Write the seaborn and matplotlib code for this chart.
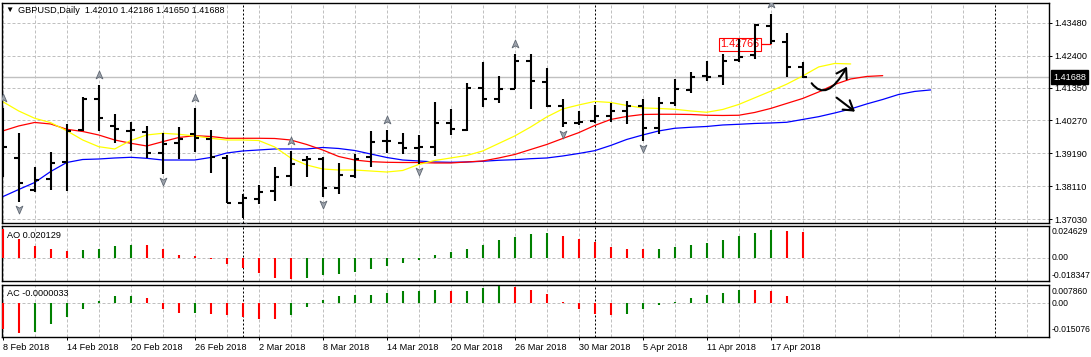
import numpy as np
import pandas as pd
import seaborn as sns
import matplotlib.pyplot as plt
from matplotlib.path import Path
from matplotlib.patches import FancyArrowPatch
from matplotlib.transforms import ScaledTranslation, blended_transform_factory

# GBPUSD daily bars, 8 Feb 2018 .. 19 Apr 2018
opens = [1.40121, 1.39048, 1.37988, 1.38339, 1.38897, 1.39957, 1.40975, 1.40098, 1.39934, 1.39902,
         1.39192, 1.39521, 1.39826, 1.39652, 1.39028, 1.37571, 1.37692, 1.37965, 1.38457, 1.38963,
         1.38995, 1.38043, 1.38457, 1.39061, 1.39586, 1.39540, 1.39357, 1.39389, 1.40197, 1.39957,
         1.41346, 1.40965, 1.41303, 1.42232, 1.41523, 1.40745, 1.40197, 1.40263, 1.40417, 1.40591,
         1.40755, 1.40013, 1.40834, 1.41271, 1.41730, 1.41730, 1.42255, 1.42420, 1.43382, 1.42856,
         1.42010]
highs = [1.40680, 1.39869, 1.38752, 1.39245, 1.40154, 1.41051, 1.41435, 1.40483, 1.40230, 1.40089,
         1.39869, 1.40046, 1.40689, 1.39957, 1.39137, 1.37856, 1.38152, 1.38752, 1.39268, 1.39104,
         1.39061, 1.38864, 1.39169, 1.39925, 1.39957, 1.39869, 1.39793, 1.40867, 1.40647, 1.41490,
         1.42180, 1.41730, 1.42452, 1.42452, 1.41983, 1.40965, 1.40581, 1.40778, 1.40854, 1.40919,
         1.40975, 1.41031, 1.41632, 1.41871, 1.42223, 1.42452, 1.42935, 1.43427, 1.43766, 1.43132,
         1.42186]
lows = [1.38414, 1.37603, 1.37932, 1.37988, 1.37965, 1.39934, 1.39934, 1.39540, 1.39278, 1.39028,
        1.38513, 1.39015, 1.39245, 1.38536, 1.37571, 1.37058, 1.37518, 1.37636, 1.38129, 1.38424,
        1.37768, 1.37846, 1.38372, 1.38733, 1.39212, 1.39169, 1.38841, 1.39104, 1.39793, 1.39925,
        1.40722, 1.40834, 1.41293, 1.40637, 1.40722, 1.40066, 1.40121, 1.40197, 1.40210, 1.40145,
        1.39606, 1.39816, 1.40745, 1.41182, 1.41576, 1.41435, 1.42200, 1.42278, 1.42766, 1.41707,
        1.41650]
closes = [1.39409, 1.38227, 1.38316, 1.38884, 1.39934, 1.40975, 1.40341, 1.39990, 1.39957, 1.39192,
          1.39498, 1.39652, 1.39685, 1.39061, 1.37571, 1.37715, 1.37932, 1.38424, 1.38831, 1.38995,
          1.38063, 1.38480, 1.39005, 1.39573, 1.39586, 1.39357, 1.39409, 1.40197, 1.39980, 1.41346,
          1.40965, 1.41293, 1.42232, 1.41576, 1.40745, 1.40197, 1.40210, 1.40417, 1.40581, 1.40755,
          1.40013, 1.40834, 1.41293, 1.41707, 1.41707, 1.42232, 1.42344, 1.43404, 1.42889, 1.42035,
          1.41688]
dates = pd.bdate_range("2018-02-08", periods=len(closes))

# Alligator lines, they run 8/5/3 bars past the last candle
jaw = [1.37768, 1.38004, 1.38234, 1.38595, 1.38890, 1.38989, 1.39005, 1.39038, 1.39061, 1.39028,
       1.38972, 1.38972, 1.38972, 1.39055, 1.39202, 1.39268, 1.39301, 1.39334, 1.39334, 1.39334,
       1.39383, 1.39350, 1.39284, 1.39169, 1.39055, 1.38972, 1.38940, 1.38907, 1.38897, 1.38907,
       1.38930, 1.38963, 1.38982, 1.39015, 1.39038, 1.39104, 1.39186, 1.39278, 1.39449, 1.39646,
       1.39793, 1.39925, 1.40013, 1.40046, 1.40072, 1.40121, 1.40144, 1.40171, 1.40187, 1.40210,
       1.40302, 1.40394, 1.40515, 1.40647, 1.40811, 1.40958, 1.41123, 1.41222, 1.41271]
teeth = [1.39925, 1.40089, 1.40204, 1.40154, 1.39980, 1.39908, 1.39793, 1.39629, 1.39521, 1.39432,
         1.39573, 1.39711, 1.39770, 1.39744, 1.39685, 1.39685, 1.39685, 1.39678, 1.39629, 1.39481,
         1.39301, 1.39087, 1.38972, 1.38917, 1.38897, 1.38890, 1.38890, 1.38874, 1.38874, 1.38907,
         1.38940, 1.39038, 1.39153, 1.39317, 1.39481, 1.39678, 1.39869, 1.40105, 1.40302, 1.40401,
         1.40466, 1.40473, 1.40473, 1.40466, 1.40440, 1.40433, 1.40440, 1.40532, 1.40664, 1.40828,
         1.40991, 1.41205, 1.41451, 1.41631, 1.41713, 1.41740]
lips = [1.40887, 1.40581, 1.40341, 1.40197, 1.39934, 1.39629, 1.39409, 1.39334, 1.39612, 1.39793,
        1.39849, 1.39816, 1.39760, 1.39685, 1.39629, 1.39629, 1.39612, 1.39399, 1.39038, 1.38808,
        1.38677, 1.38644, 1.38644, 1.38611, 1.38578, 1.38628, 1.38825, 1.38956, 1.39038, 1.39120,
        1.39268, 1.39514, 1.39760, 1.40056, 1.40384, 1.40647, 1.40778, 1.40893, 1.40860, 1.40762,
        1.40680, 1.40663, 1.40637, 1.40581, 1.40538, 1.40630, 1.40794, 1.41012, 1.41230, 1.41460,
        1.41730, 1.42026, 1.42140, 1.42124]

# Awesome / Accelerator oscillators
ao = [0.02250, 0.01440, 0.00930, 0.00690, 0.00535, 0.00560, 0.00700, 0.00915, 0.01008, 0.00990,
      0.00640, 0.00245, 0.00165, -0.00101, -0.00504, -0.00806, -0.01184, -0.01562, -0.01638, -0.01562,
      -0.01336, -0.01260, -0.01084, -0.00882, -0.00655, -0.00428, -0.00176, 0.00176, 0.00428, 0.00655,
      0.01008, 0.01386, 0.01638, 0.01840, 0.01940, 0.01688, 0.01462, 0.01184, 0.00857, 0.00706,
      0.00693, 0.00706, 0.00806, 0.00958, 0.01159, 0.01411, 0.01688, 0.01915, 0.02142, 0.02092,
      0.020129]
ac = [-0.01150, -0.01340, -0.01295, -0.00950, -0.00640, -0.00296, 0.00090, 0.00265, 0.00275, 0.00180,
      -0.00275, -0.00470, -0.00462, -0.00474, -0.00518, -0.00607, -0.00696, -0.00710, -0.00518, -0.00207,
      0.00104, 0.00281, 0.00326, 0.00340, 0.00414, 0.00503, 0.00518, 0.00548, 0.00490, 0.00503,
      0.00636, 0.00703, 0.00692, 0.00548, 0.00370, 0.00015, -0.00296, -0.00488, -0.00518, -0.00474,
      -0.00296, -0.00118, 0.00044, 0.00192, 0.00326, 0.00414, 0.00555, 0.00540, 0.00503, 0.00281,
      -0.0000033]

fractal_up = [0, 6, 12, 18, 24, 32, 48]
fractal_down = [1, 10, 15, 20, 26, 35, 40]

price_ticks = [1.43480, 1.42400, 1.41350, 1.40270, 1.39190, 1.38110, 1.37030]
ao_range = (-0.018347, 0.024629)
ac_range = (-0.015076, 0.007860)
bid = 1.41688
marked_low = 1.42766
month_separators = [15, 37, 62]

# hand drawn arrows (bar index, price)
swoosh = [(50.56, 1.41491), (51.50, 1.40844), (52.77, 1.42035)]
straight = [(52.12, 1.41018), (53.27, 1.40558)]

sns.set_style("white")
plt.rcParams.update({
    "font.family": ["Liberation Sans", "DejaVu Sans"],
    "font.size": 6.6,
    "axes.edgecolor": "black",
    "axes.linewidth": 1.0,
    "text.color": "black",
    "xtick.color": "black",
    "ytick.color": "black",
})

W, H = 1091, 357
fig = plt.figure(figsize=(W / 100, H / 100), dpi=100)


def box(top, bottom, left=2, right=1049):
    return [left / W, 1 - bottom / H, (right - left) / W, (bottom - top) / H]


ax = fig.add_axes(box(2.5, 223))
ax_ao = fig.add_axes(box(226, 281.3))
ax_ac = fig.add_axes(box(284.5, 337.3))

xlim = ((2 - 2.7) / 16, (1049 - 2.7) / 16)
grid_kw = dict(color="#c0c0c0", lw=0.72, ls=(0, (3, 2)))
sep_kw = dict(color="black", lw=0.72, ls=(0, (2, 2)))

for a in (ax, ax_ao, ax_ac):
    a.set_xlim(*xlim)
    for b in range(0, 66, 2):
        if b not in month_separators:
            a.axvline(b, zorder=0, **grid_kw)
    for b in month_separators:
        a.axvline(b, zorder=1, **sep_kw)

# ---- main price panel
x = np.arange(len(closes))
ax.set_ylim(1.36905, 1.4414)
for p in price_ticks:
    ax.axhline(p, zorder=0, **grid_kw)
ax.axhline(bid, color="#c0c0c0", lw=1.0, zorder=1.5)

lines_df = pd.concat([
    pd.DataFrame({"bar": np.arange(len(v)), "price": v, "line": k})
    for k, v in [("jaw", jaw), ("teeth", teeth), ("lips", lips)]
])
sns.lineplot(data=lines_df, x="bar", y="price", hue="line", estimator=None, sort=False,
             palette={"jaw": "#0000ff", "teeth": "#ff0000", "lips": "#ffff00"},
             lw=0.9, legend=False, ax=ax, zorder=2)

ax.text(46.08, marked_low, f"{marked_low:.5f}", color="#ff0000", fontsize=7.8,
        ha="center", va="center", zorder=3,
        bbox=dict(boxstyle="square,pad=0.12", fc="white", ec="#ff0000", lw=0.8))
ax.hlines(marked_low, 47.4, 48, color="#ff0000", lw=0.9, zorder=3)

bar_kw = dict(color="black", lw=1.5, zorder=4)
ax.vlines(x, lows, highs, **bar_kw)
ax.hlines(opens, x - 0.28, x, **bar_kw)
ax.hlines(closes, x, x + 0.28, **bar_kw)

up_mark = Path([(0, 1), (0.75, -0.75), (0, -0.3), (-0.75, -0.75), (0, 1)],
               [Path.MOVETO, Path.LINETO, Path.LINETO, Path.LINETO, Path.CLOSEPOLY])
down_mark = Path([(0, -1), (0.75, 0.75), (0, 0.3), (-0.75, 0.75), (0, -1)],
                 [Path.MOVETO, Path.LINETO, Path.LINETO, Path.LINETO, Path.CLOSEPOLY])
frac_kw = dict(ls="none", ms=6.5, mfc="#9ea4ad", mec="#5f6772", mew=0.6, zorder=6)
ax.plot(fractal_up, np.array(highs)[fractal_up], marker=up_mark,
        transform=ax.transData + ScaledTranslation(0, 0.095, fig.dpi_scale_trans), **frac_kw)
ax.plot(fractal_down, np.array(lows)[fractal_down], marker=down_mark,
        transform=ax.transData + ScaledTranslation(0, -0.075, fig.dpi_scale_trans), **frac_kw)

arrow_kw = dict(arrowstyle="->,head_length=0.55,head_width=0.35", mutation_scale=12,
                lw=1.5, color="black", shrinkA=0, shrinkB=0, zorder=7)
ax.add_patch(FancyArrowPatch(path=Path(swoosh, [Path.MOVETO, Path.CURVE3, Path.CURVE3]), **arrow_kw))
ax.add_patch(FancyArrowPatch(path=Path(straight, [Path.MOVETO, Path.LINETO]), **arrow_kw))

ax.set_xlabel("")
ax.set_ylabel("")
ax.yaxis.tick_right()
ax.set_yticks(price_ticks)
ax.set_yticklabels([f"{p:.5f}" for p in price_ticks])
ax.tick_params(axis="y", right=True, left=False, length=2.2, width=0.72, pad=1.6, labelsize=6.6)
ax.tick_params(axis="x", bottom=False, labelbottom=False)

ax.annotate(f"{bid:.5f}", xy=(1, bid), xycoords=blended_transform_factory(ax.transAxes, ax.transData),
            xytext=(4, 0), textcoords="offset pixels", color="white", fontsize=6.6,
            ha="left", va="center", annotation_clip=False,
            bbox=dict(boxstyle="square,pad=0.25", fc="black", ec="black"))

fig.text(9 / W, 1 - 10 / H, "\u25bc", fontsize=6, ha="center", va="center")
fig.text(18 / W, 1 - 10.5 / H, "GBPUSD,Daily  1.42010 1.42186 1.41650 1.41688", va="center")

# ---- oscillators
for a, vals, lim, label, lab_y in [(ax_ao, ao, ao_range, f"AO {ao[-1]:.6f}", (235.3, 232, 258, 275)),
                                    (ax_ac, ac, ac_range, f"AC {ac[-1]:.7f}", (293, 291.5, 303.3, 329.5))]:
    vals = np.asarray(vals)
    up = np.r_[False, np.diff(vals) > 0]
    a.set_ylim(*lim)
    a.axhline(0, zorder=0, **grid_kw)
    a.vlines(x, 0, vals, colors=np.where(up, "#008000", "#ff0000"), lw=1.5, zorder=3)
    a.set_yticks([])
    fig.text(7 / W, 1 - lab_y[0] / H, label, va="center")
    for txt, yy in zip([f"{lim[1]:.6f}", "0.00", f"{lim[0]:.6f}"], lab_y[1:]):
        fig.text(1051.5 / W, 1 - yy / H, txt, va="center", fontsize=6.2)

ax_ao.tick_params(axis="x", bottom=False, labelbottom=False)
tick_idx = list(range(0, len(closes), 4))
ax_ac.set_xticks(tick_idx)
ax_ac.set_xticklabels([f"{d.day} {d:%b %Y}" for d in dates[tick_idx]], ha="left")
ax_ac.tick_params(axis="x", bottom=True, length=2.2, width=0.72, pad=1.6, labelsize=6.6)

fig.savefig("out.png", dpi=100)
